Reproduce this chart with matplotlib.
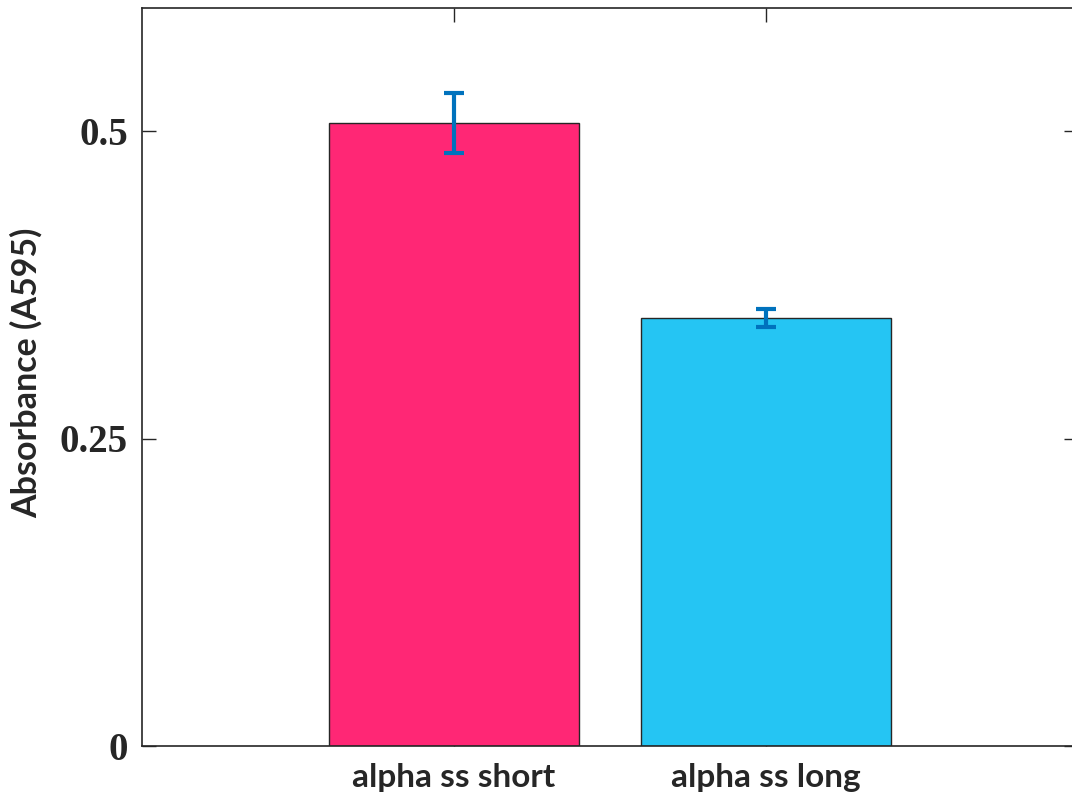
import numpy as np
import matplotlib.pyplot as plt

# Absorbance at 595 nm for the two constructs
categories = ['alpha ss short', 'alpha ss long']
absorbance = [0.5065, 0.3482]
absorbance_err = [0.024, 0.0073]
bar_colors = ['#FF2775', '#25C5F3']
y_ticks = [0, 0.25, 0.5]
y_tick_labels = ['0', '0.25', '0.5']

fig = plt.figure(figsize=(10.72, 8.10), dpi=100)
# axes box runs slightly past the right edge of the canvas
ax = fig.add_axes([142 / 1072, 1 - 746 / 810, 936 / 1072, 738 / 810])

x = np.arange(1, len(categories) + 1)
ax.bar(x, absorbance, width=0.8, color=bar_colors, edgecolor='#262626', linewidth=1.0, zorder=2)
ax.errorbar(x, absorbance, yerr=absorbance_err, fmt='none', ecolor='#0072BD',
            elinewidth=3, capsize=7.5, capthick=3, zorder=3)

ax.set_xlim(0, 3)
ax.set_ylim(0, 0.6)
ax.set_xticks(x)
ax.set_xticklabels(categories, fontfamily='Lato', fontweight='bold', fontsize=24, color='#262626')
ax.set_yticks(y_ticks)
ax.set_yticklabels(y_tick_labels, fontfamily='Liberation Serif', fontweight='bold', fontsize=28, color='#262626')
ax.set_ylabel('Absorbance (A595)', fontfamily='Lato', fontweight='bold', fontsize=24.5, color='#262626')
ax.yaxis.set_label_coords(-0.106, 0.506)

ax.tick_params(axis='x', pad=12)
ax.tick_params(axis='y', pad=10)
ax.tick_params(direction='in', length=10, width=1.0, color='#262626', top=True, right=True)
for spine in ax.spines.values():
    spine.set_color('#262626')
    spine.set_linewidth(1.2)

fig.savefig('out.png', dpi=100)
